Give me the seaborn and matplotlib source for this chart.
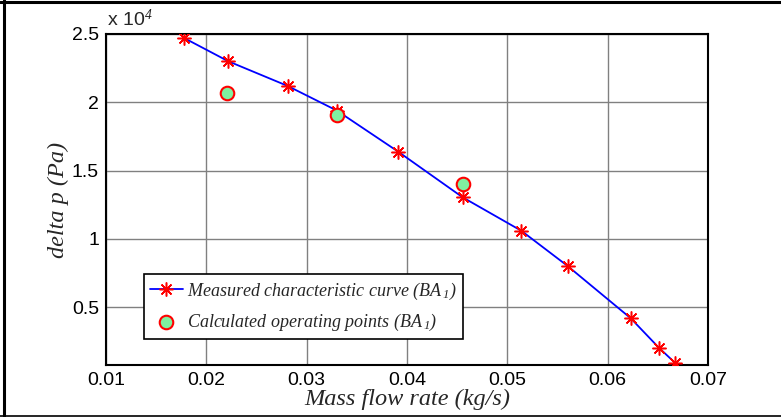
import matplotlib
matplotlib.use("Agg")
import matplotlib.pyplot as plt
import seaborn as sns
import pandas as pd
from matplotlib.lines import Line2D

# ---- data ----
measured_flow = [0.0178, 0.0222, 0.0281, 0.0330, 0.0391, 0.04555, 0.0514, 0.0560, 0.0623, 0.0651, 0.0667]
measured_dp = [24700, 23000, 21200, 19400, 16400, 13050, 10600, 8030, 4200, 2050, 950]
calc_flow = [0.0221, 0.0330, 0.0456]
calc_dp = [20660, 19050, 14030]
x_ticks = [0.01, 0.02, 0.03, 0.04, 0.05, 0.06, 0.07]
x_tick_labels = ["0.01", "0.02", "0.03", "0.04", "0.05", "0.06", "0.07"]
y_ticks = [5000, 10000, 15000, 20000, 25000]
y_tick_labels = ["0.5", "1", "1.5", "2", "2.5"]
label_measured = "Measured characteristic curve (BA$_{\\,1}$)"
label_calc = "Calculated operating points (BA$_{\\,1}$)"

sns.set_style("white")
plt.rcParams["font.family"] = ["Liberation Sans", "DejaVu Sans"]
plt.rcParams["mathtext.fontset"] = "custom"
plt.rcParams["mathtext.rm"] = "Liberation Serif:italic"
plt.rcParams["mathtext.it"] = "Liberation Serif:italic"
plt.rcParams["mathtext.default"] = "it"

fig = plt.figure(figsize=(7.81, 4.17), dpi=100)
ax = fig.add_axes([0.1357, 0.1247, 0.7708, 0.7938])

df_m = pd.DataFrame({"flow": measured_flow, "dp": measured_dp})
df_c = pd.DataFrame({"flow": calc_flow, "dp": calc_dp})

sns.lineplot(data=df_m, x="flow", y="dp", ax=ax, color="blue", linewidth=1.3,
             marker=(8, 2, 0), markersize=10, markeredgecolor="red",
             markeredgewidth=1.1, sort=False, label=label_measured, zorder=3)
sns.scatterplot(data=df_c, x="flow", y="dp", ax=ax, color="#80f0a0",
                edgecolor="red", linewidth=1.5, s=95, label=label_calc, zorder=4)

ax.set_xlim(0.01, 0.07)
ax.set_ylim(780, 25000)
ax.set_xticks(x_ticks)
ax.set_xticklabels(x_tick_labels)
ax.set_yticks(y_ticks)
ax.set_yticklabels(y_tick_labels)
ax.tick_params(direction="in", length=4, width=1, labelsize=14, colors="black", pad=5)
ax.grid(True, color="#808080", linewidth=1, linestyle="-")
for s in ax.spines.values():
    s.set_color("black")
    s.set_linewidth(1.5)

ax.set_xlabel("Mass flow rate (kg/s)", fontsize=17.5, fontstyle="italic",
              family="Liberation Serif", labelpad=0)
ax.set_ylabel("delta p (Pa)", fontsize=17.5, fontstyle="italic",
              family="Liberation Serif", labelpad=2)

ax.text(0.002, 1.012, "x 10$^{\\mathrm{4}}$", transform=ax.transAxes, fontsize=14,
        ha="left", va="bottom", family="Liberation Sans")

leg = ax.legend(loc="lower left", bbox_to_anchor=(0.063, 0.0785), borderaxespad=0,
                fancybox=False, frameon=True, edgecolor="black", framealpha=1,
                prop={"family": "Liberation Serif", "style": "italic", "size": 13},
                handlelength=1.8, handletextpad=0.25, borderpad=0.35, labelspacing=0.55)
leg.get_frame().set_linewidth(1.2)

# outer frame (top, left, bottom)
fig.lines.append(Line2D([0, 1], [0.995, 0.995], transform=fig.transFigure, color="black", linewidth=2.2))
fig.lines.append(Line2D([0.0055, 0.0055], [0.0, 1.0], transform=fig.transFigure, color="black", linewidth=2.2))
fig.lines.append(Line2D([0, 1], [0.0015, 0.0015], transform=fig.transFigure, color="black", linewidth=1.2))

fig.savefig("out.png", dpi=100)
